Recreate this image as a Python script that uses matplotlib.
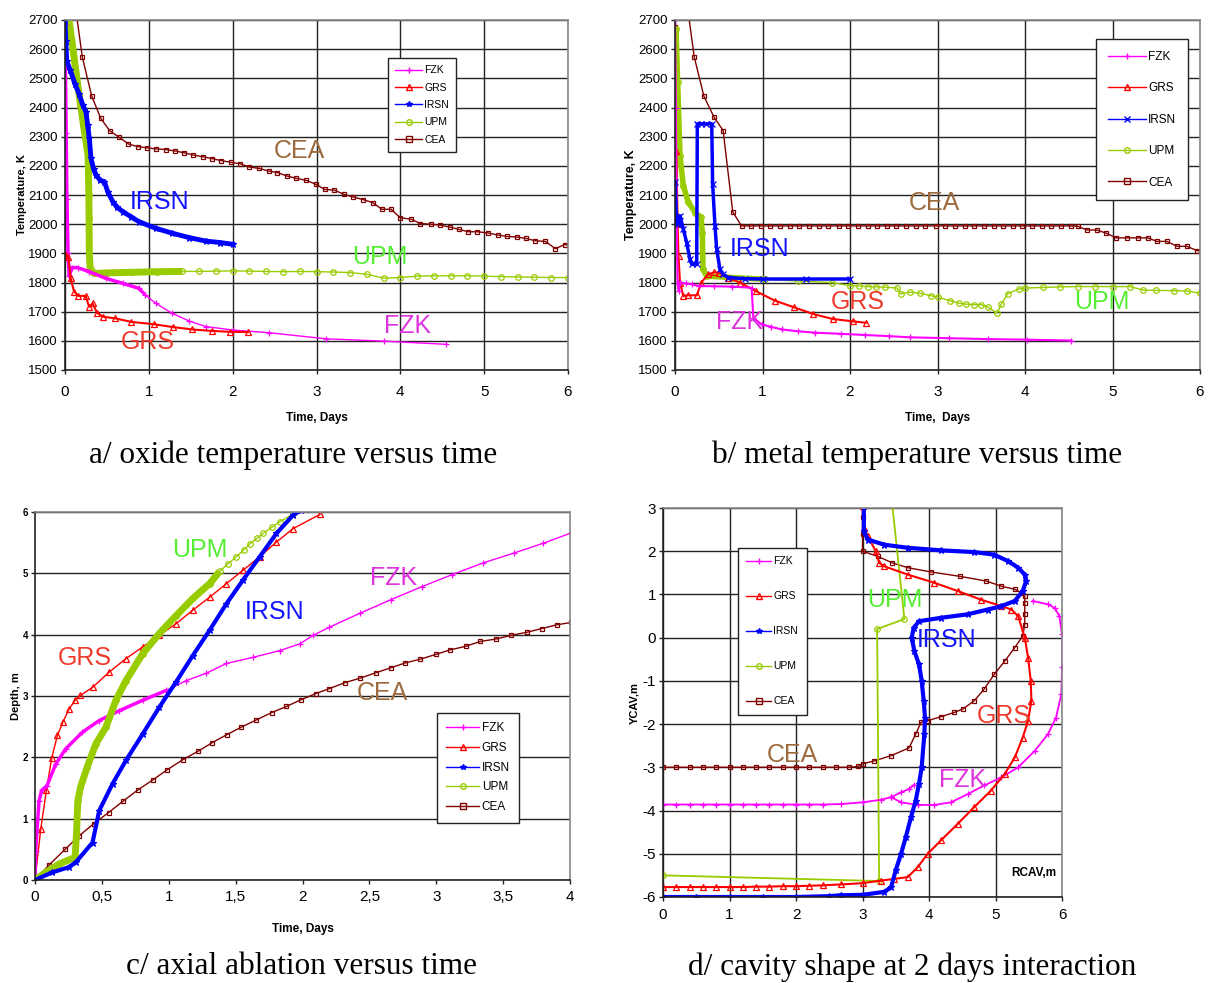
import numpy as np
import matplotlib
matplotlib.use("Agg")
import matplotlib.pyplot as plt
from matplotlib.lines import Line2D

plt.rcParams['font.family'] = ['Liberation Sans', 'DejaVu Sans']
plt.rcParams['axes.unicode_minus'] = False

# ---------------- data: a/ oxide temperature ----------------
fzk_a_t = [0.0, 0.014, 0.023, 0.036, 0.05, 0.08, 0.15, 0.29, 0.49, 0.69, 0.88, 0.96, 1.08, 1.28, 1.48,
           1.68, 2.0, 2.43, 3.11, 3.8, 4.55]
fzk_a_T = [2685, 2314, 2085, 1902, 1822, 1851, 1851, 1837, 1814, 1797, 1780, 1757, 1729, 1694, 1668,
           1649, 1637, 1628, 1607, 1599, 1588]
grs_a_t = [0.0, 0.04, 0.068, 0.108, 0.16, 0.247, 0.287, 0.33, 0.38, 0.45, 0.6, 0.79, 1.06, 1.29, 1.52,
           1.75, 1.97, 2.18]
grs_a_T = [1898, 1886, 1814, 1769, 1754, 1754, 1717, 1728, 1697, 1683, 1677, 1665, 1657, 1647, 1639,
           1634, 1631, 1630]
irsn_a_t = [0.0, 0.01, 0.02, 0.06, 0.12, 0.17, 0.21, 0.25, 0.27, 0.29, 0.31, 0.34, 0.37, 0.42, 0.47,
            0.51, 0.57, 0.62, 0.69, 0.79, 0.88, 1.08, 1.28, 1.48, 1.68, 1.85, 2.0]
irsn_a_T = [2700, 2628, 2560, 2530, 2480, 2445, 2410, 2386, 2340, 2294, 2226, 2190, 2169, 2150, 2146,
            2111, 2077, 2058, 2043, 2025, 2009, 1986, 1969, 1954, 1942, 1937, 1931]
upm_a_t = [0.02, 0.04, 0.1, 0.16, 0.22, 0.275, 0.285, 0.287, 0.29, 0.3, 0.347, 0.5, 0.8, 1.1, 1.4,
           1.6, 1.8, 2.0, 2.2, 2.4, 2.6, 2.8, 3.0, 3.2, 3.4, 3.6, 3.8, 4.0, 4.2, 4.4, 4.6, 4.8, 5.0,
           5.2, 5.4, 5.6, 5.8, 6.0]
upm_a_T = [2720, 2717, 2590, 2460, 2340, 2237, 2100, 2020, 1900, 1849, 1831, 1833, 1835, 1837, 1838,
           1838, 1839, 1840, 1839, 1838, 1837, 1838, 1837, 1836, 1834, 1828, 1815, 1817, 1822, 1823,
           1823, 1823, 1822, 1820, 1819, 1818, 1817, 1817]
cea_a_t = [0.0, 0.05, 0.207, 0.319, 0.426, 0.534, 0.645, 0.757, 0.865, 0.976, 1.088, 1.2, 1.31, 1.42,
           1.53, 1.65, 1.75, 1.86, 1.98, 2.09, 2.2, 2.32, 2.43, 2.53, 2.65, 2.76, 2.88, 2.99, 3.1, 3.21,
           3.33, 3.44, 3.56, 3.67, 3.78, 3.89, 4.0, 4.13, 4.24, 4.36, 4.47, 4.59, 4.7, 4.81, 4.92, 5.04,
           5.16, 5.27, 5.39, 5.5, 5.61, 5.73, 5.85, 5.96, 6.05]
cea_a_T = [2674, 2900, 2572, 2439, 2363, 2320, 2298, 2275, 2266, 2262, 2258, 2256, 2251, 2245,
           2237, 2231, 2225, 2218, 2212, 2207, 2196, 2191, 2182, 2177, 2165, 2157, 2150, 2137, 2119, 2117,
           2102, 2093, 2084, 2074, 2051, 2051, 2022, 2017, 2002, 2000, 1997, 1990, 1982, 1974, 1974, 1970,
           1963, 1958, 1956, 1951, 1943, 1941, 1916, 1930, 1927]

# ---------------- data: b/ metal temperature ----------------
fzk_b_t = [0.0, 0.01, 0.02, 0.03, 0.04, 0.057, 0.12, 0.19, 0.27, 0.45, 0.65, 0.876, 0.895, 0.99, 1.1,
           1.22, 1.4, 1.6, 1.9, 2.17, 2.45, 2.69, 3.13, 3.58, 4.02, 4.53]
fzk_b_T = [2700, 2400, 2000, 1800, 1771, 1800, 1797, 1794, 1788, 1787, 1786, 1782, 1679, 1656, 1648,
           1639, 1633, 1628, 1624, 1620, 1616, 1612, 1609, 1606, 1604, 1601]
grs_b_t = [0.015, 0.03, 0.04, 0.057, 0.095, 0.15, 0.25, 0.3, 0.38, 0.45, 0.5, 0.61, 0.74, 0.92, 1.14,
           1.36, 1.58, 1.8, 2.03, 2.18]
grs_b_T = [2250, 2000, 1891, 1800, 1754, 1756, 1756, 1800, 1828, 1835, 1834, 1815, 1800, 1771, 1738,
           1715, 1692, 1675, 1667, 1662]
irsn_b_t = [0.0, 0.02, 0.04, 0.057, 0.095, 0.133, 0.17, 0.19, 0.248, 0.255, 0.3, 0.35, 0.42, 0.43,
            0.457, 0.476, 0.514, 0.55, 0.61, 0.8, 1.0, 1.5, 2.0]
irsn_b_T = [2143, 2000, 2000, 2029, 1983, 1937, 1880, 1863, 1863, 2344, 2344, 2344, 2344, 2138,
            1994, 1914, 1845, 1828, 1817, 1813, 1812, 1812, 1812]
upm_b_t = [0.0, 0.011, 0.03, 0.057, 0.095, 0.152, 0.23, 0.297, 0.312, 0.32, 0.36, 0.65, 1.03, 1.41,
           1.79, 2.0, 2.1, 2.2, 2.3, 2.4, 2.54, 2.58, 2.69, 2.8, 2.92, 3.0, 3.14, 3.25, 3.32, 3.42, 3.5,
           3.58, 3.68, 3.73, 3.8, 3.93, 4.0, 4.2, 4.4, 4.6, 4.8, 5.0, 5.2, 5.35, 5.5, 5.7, 5.85, 6.0]
upm_b_T = [1903, 2670, 2487, 2235, 2132, 2075, 2040, 2023, 1971, 1845, 1822, 1817, 1811, 1805,
           1800, 1789, 1788, 1786, 1785, 1784, 1781, 1761, 1767, 1763, 1755, 1750, 1738, 1729, 1726, 1724,
           1724, 1715, 1695, 1726, 1761, 1778, 1781, 1783, 1785, 1786, 1786, 1786, 1786, 1774, 1773,
           1772, 1771, 1763]
cea_b_t = [0.0, 0.05, 0.22, 0.33, 0.446, 0.55, 0.66, 0.76, 0.87, 0.98, 1.09, 1.2, 1.31, 1.42, 1.53,
           1.64, 1.75, 1.87, 1.98, 2.09, 2.2, 2.31, 2.42, 2.53, 2.64, 2.75, 2.86, 2.98, 3.09, 3.2, 3.31,
           3.42, 3.53, 3.64, 3.75, 3.86, 3.97, 4.08, 4.19, 4.3, 4.41, 4.52, 4.6, 4.71, 4.82, 4.93, 5.04,
           5.17, 5.29, 5.4, 5.51, 5.62, 5.74, 5.85, 5.97, 6.05]
cea_b_T = [2676, 2950, 2573, 2439, 2367, 2321, 2042, 1994, 1994, 1994, 1994, 1994, 1994, 1994, 1994,
           1994, 1994, 1994, 1994, 1994, 1994, 1994, 1994, 1994, 1994, 1994, 1994, 1994, 1994, 1994, 1994,
           1994, 1994, 1994, 1994, 1994, 1994, 1994, 1994, 1994, 1994, 1994, 1993, 1980, 1980, 1969, 1953,
           1953, 1953, 1953, 1941, 1941, 1924, 1924, 1909, 1909]

# ---------------- data: c/ axial ablation ----------------
fzk_c_t = [0.0, 0.005, 0.03, 0.05, 0.09, 0.155, 0.23, 0.355, 0.48, 0.63, 0.805, 0.98, 1.13, 1.28, 1.43,
           1.63, 1.83, 1.98, 2.08, 2.2, 2.43, 2.66, 2.89, 3.12, 3.35, 3.58, 3.8, 4.01]
fzk_c_D = [0.0, 0.48, 1.29, 1.46, 1.54, 1.89, 2.14, 2.41, 2.6, 2.76, 2.93, 3.09, 3.25, 3.37, 3.53,
           3.63, 3.74, 3.85, 3.99, 4.12, 4.35, 4.57, 4.78, 4.98, 5.17, 5.33, 5.49, 5.66]
grs_c_t = [0.0, 0.043, 0.085, 0.125, 0.168, 0.21, 0.255, 0.3, 0.34, 0.43, 0.555, 0.68, 0.805, 0.93,
           1.055, 1.18, 1.305, 1.43, 1.555, 1.68, 1.805, 1.93, 2.13]
grs_c_D = [0.0, 0.83, 1.46, 1.99, 2.36, 2.58, 2.79, 2.93, 3.01, 3.14, 3.39, 3.61, 3.8, 3.99,
           4.18, 4.4, 4.61, 4.83, 5.05, 5.27, 5.51, 5.73, 5.96]
irsn_c_t = [0.0, 0.13, 0.255, 0.305, 0.43, 0.48, 0.58, 0.68, 0.805, 0.93, 1.055, 1.18, 1.305, 1.43,
            1.555, 1.68, 1.805, 1.93, 1.99]
irsn_c_D = [0.0, 0.125, 0.21, 0.29, 0.61, 1.13, 1.57, 1.95, 2.38, 2.82, 3.23, 3.66, 4.07, 4.5,
            4.89, 5.27, 5.65, 5.95, 6.03]
upm_c_t = [0.0, 0.08, 0.18, 0.3, 0.31, 0.32, 0.34, 0.39, 0.455, 0.53, 0.605, 0.68, 0.805, 0.93, 1.055,
           1.18, 1.305, 1.38, 1.44, 1.505, 1.56, 1.605, 1.66, 1.705, 1.77, 1.83, 1.93, 2.03]
upm_c_D = [0.0, 0.125, 0.26, 0.37, 0.75, 1.29, 1.51, 1.84, 2.22, 2.49, 2.93, 3.25, 3.69, 4.02, 4.31,
           4.59, 4.83, 5.03, 5.15, 5.27, 5.38, 5.48, 5.57, 5.65, 5.75, 5.84, 5.97, 6.06]
cea_c_t = [0.0, 0.105, 0.225, 0.33, 0.44, 0.55, 0.655, 0.77, 0.88, 0.99, 1.105, 1.22, 1.325, 1.435,
           1.54, 1.655, 1.77, 1.88, 1.99, 2.1, 2.2, 2.32, 2.43, 2.55, 2.66, 2.77, 2.88, 3.0, 3.1, 3.22,
           3.33, 3.45, 3.56, 3.68, 3.79, 3.9, 4.01]
cea_c_D = [0.0, 0.245, 0.5, 0.72, 0.92, 1.1, 1.28, 1.47, 1.63, 1.8, 1.96, 2.1, 2.24, 2.37,
           2.49, 2.61, 2.73, 2.83, 2.94, 3.04, 3.12, 3.22, 3.29, 3.38, 3.46, 3.54, 3.6, 3.68, 3.75, 3.81,
           3.89, 3.93, 3.99, 4.04, 4.1, 4.16, 4.2]

# ---------------- data: d/ cavity shape ----------------
fzk_d_r = [0.0, 0.2, 0.4, 0.6, 0.8, 1.0, 1.2, 1.4, 1.6, 1.8, 2.0, 2.2, 2.4, 2.67, 3.0, 3.28, 3.43,
           3.58, 3.7, 3.78]
fzk_d_y = [-3.86, -3.86, -3.86, -3.86, -3.86, -3.86, -3.86, -3.86, -3.86, -3.86, -3.86, -3.86, -3.86,
           -3.85, -3.81, -3.75, -3.69, -3.58, -3.5, -3.4]
fzk_d_r2 = [3.43, 3.58, 3.83, 4.08, 4.33, 4.58, 4.83, 5.09, 5.34, 5.59, 5.79, 5.91, 5.99, 6.0, 6.0,
            5.96, 5.89, 5.79, 5.56]
fzk_d_y2 = [-3.69, -3.81, -3.87, -3.87, -3.81, -3.62, -3.42, -3.23, -3.0, -2.62, -2.23, -1.85, -1.31,
            -0.69, 0.08, 0.5, 0.69, 0.77, 0.85]
grs_d_r = [0.0, 0.2, 0.4, 0.6, 0.8, 1.0, 1.2, 1.4, 1.6, 1.8, 2.0, 2.2, 2.4, 2.67, 3.0, 3.28, 3.48,
           3.68, 3.83, 3.98, 4.18, 4.43, 4.68, 4.93, 5.14, 5.29, 5.41, 5.49, 5.54, 5.53, 5.49, 5.44,
           5.34, 5.24, 5.09, 4.78, 4.43, 4.08, 3.68, 3.33, 3.25, 3.2, 3.08, 3.02, 3.0]
grs_d_y = [-5.77, -5.77, -5.77, -5.77, -5.77, -5.77, -5.77, -5.76, -5.76, -5.75, -5.75, -5.74, -5.73,
           -5.71, -5.68, -5.62, -5.58, -5.54, -5.31, -5.0, -4.69, -4.31, -3.92, -3.54, -3.15, -2.77,
           -2.31, -1.92, -1.46, -1.0, -0.46, 0.0, 0.5, 0.65, 0.73, 0.88, 1.08, 1.27, 1.46, 1.65, 1.73,
           2.0, 2.35, 2.54, 3.04]
irsn_d_r = [0.0, 0.5, 1.0, 1.5, 2.0, 2.5, 2.67, 3.0, 3.33, 3.43, 3.5, 3.58, 3.65, 3.73, 3.8, 3.85,
            3.89, 3.93, 3.94, 3.92, 3.89, 3.85, 3.78, 3.74, 3.77, 3.85, 4.18, 4.58, 4.88, 5.09, 5.29,
            5.41, 5.46, 5.44, 5.34, 5.19, 4.98, 4.68, 4.18, 3.68, 3.33, 3.08, 3.02, 3.02]
irsn_d_y = [-6.0, -6.0, -6.0, -6.0, -6.0, -5.98, -5.96, -5.95, -5.88, -5.77, -5.38, -5.0, -4.62,
            -4.15, -3.77, -3.38, -3.0, -2.23, -1.85, -1.46, -1.0, -0.62, -0.31, 0.0, 0.23, 0.38, 0.46,
            0.54, 0.65, 0.73, 0.85, 1.08, 1.31, 1.46, 1.62, 1.77, 1.92, 1.98, 2.02, 2.08, 2.15, 2.27,
            2.46, 3.04]
upm_d_r = [0.0, 3.25, 3.22, 3.63, 3.45]
upm_d_y = [-5.5, -5.63, 0.2, 0.43, 3.04]
cea_d_r = [0.0, 0.2, 0.4, 0.6, 0.8, 1.0, 1.2, 1.4, 1.6, 1.8, 2.0, 2.2, 2.4, 2.6, 2.8, 2.93, 3.0,
           3.18, 3.43, 3.7, 3.8, 3.88, 3.98, 4.18, 4.38, 4.51, 4.68, 4.83, 4.98, 5.14, 5.29, 5.41,
           5.44, 5.44, 5.44, 5.44, 5.39, 5.29, 5.09, 4.86, 4.46, 4.03, 3.68, 3.45, 3.23, 3.0, 3.0, 3.0,
           3.0]
cea_d_y = [-3.0, -3.0, -3.0, -3.0, -3.0, -3.0, -3.0, -3.0, -3.0, -3.0, -3.0, -3.0, -3.0, -3.0, -3.0,
           -2.98, -2.92, -2.85, -2.73, -2.55, -2.23, -1.96, -1.92, -1.83, -1.73, -1.65, -1.46, -1.19,
           -0.85, -0.54, -0.23, 0.04, 0.3, 0.55, 0.8, 0.96, 1.04, 1.12, 1.19, 1.31, 1.42, 1.52, 1.62,
           1.73, 1.88, 2.0, 2.4, 2.8, 3.04]

labels = ['FZK', 'GRS', 'IRSN', 'UPM', 'CEA']
line_colors = {'FZK': '#ff00ff', 'GRS': '#ff0000', 'IRSN': '#0000ff', 'UPM': '#99cc00', 'CEA': '#800000'}
text_colors = {'FZK': '#dd33dd', 'GRS': '#ee3b2b', 'IRSN': '#1414ff', 'UPM': '#55ee33', 'CEA': '#9c6a3c'}
markers = {'FZK': '+', 'GRS': '^', 'IRSN': '*', 'UPM': 'o', 'CEA': 's'}

W, H = 1208, 983
fig = plt.figure(figsize=(W / 100, H / 100), dpi=100)


def box(l, t, r, b):
    # pixel box -> figure fraction
    return [l / W, 1 - b / H, (r - l) / W, (b - t) / H]


def style(ax, vgrid=True):
    ax.set_axisbelow(True)
    ax.grid(True, axis='y', color='#222222', lw=1.0)
    if vgrid:
        ax.grid(True, axis='x', color='#222222', lw=1.0)
    for s in ['top', 'right']:
        ax.spines[s].set_color('#888888')
        ax.spines[s].set_linewidth(1.2)
    for s in ['left', 'bottom']:
        ax.spines[s].set_color('#222222')
        ax.spines[s].set_linewidth(1.2)
    ax.tick_params(direction='out', length=3, width=1, color='#222222', pad=2)


def draw(ax, name, x, y, lw=1.0, ms=4, mk=None, thick=0, upto=None):
    c = line_colors[name]
    m = mk or markers[name]
    mfc = c if m in ('+', '*', 'x') else 'none'
    ax.plot(x, y, color=c, lw=lw, marker=m, ms=ms, mfc=mfc, mec=c, mew=0.9, clip_on=True)
    if thick:
        xa, ya = np.asarray(x), np.asarray(y)
        sel = xa <= upto if upto is not None else np.ones_like(xa, bool)
        ax.plot(xa[sel], ya[sel], color=c, lw=thick, solid_capstyle='butt')


def legend(ax, x0, y1, fs, spacing, hl=2.2, bp=0.6, mk_irsn='*'):
    hs = []
    for n in labels:
        m = mk_irsn if n == 'IRSN' else markers[n]
        c = line_colors[n]
        hs.append(Line2D([], [], color=c, lw=1, marker=m, ms=4,
                         mfc=c if m in ('+', '*', 'x') else 'none', mec=c))
    lg = ax.legend(hs, labels, loc='upper left', bbox_to_anchor=(x0, y1), fontsize=fs,
                   labelspacing=spacing, handlelength=hl, handletextpad=0.2, borderpad=bp,
                   fancybox=False, framealpha=1, edgecolor='#222222', borderaxespad=0)
    lg.get_frame().set_linewidth(1.0)


def tag(ax, name, x, y, fs=18):
    ax.text(x, y, name, color=text_colors[name], fontsize=fs, ha='center', va='center')


# ---------------- a ----------------
ax = fig.add_axes(box(65, 20, 568, 370))
style(ax)
draw(ax, 'CEA', cea_a_t, cea_a_T, ms=3.5)
draw(ax, 'UPM', upm_a_t, upm_a_T, ms=4, thick=5, upto=1.4)
draw(ax, 'FZK', fzk_a_t, fzk_a_T, ms=5, thick=2.5, upto=1.0)
draw(ax, 'GRS', grs_a_t, grs_a_T, ms=4, lw=1.5)
draw(ax, 'IRSN', irsn_a_t, irsn_a_T, ms=5, lw=3.5)
ax.set_xlim(0, 6)
ax.set_ylim(1500, 2700)
ax.set_xticks(range(0, 7))
ax.set_yticks(range(1500, 2701, 100))
ax.tick_params(axis='x', labelsize=11, pad=8)
ax.tick_params(axis='y', labelsize=9.5)
ax.set_xlabel('Time, Days', fontsize=8.5, fontweight='bold', labelpad=9)
ax.set_ylabel('Temperature, K', fontsize=8, fontweight='bold', labelpad=1)
legend(ax, 0.642, 0.891, 7.5, 0.7, hl=2.6, bp=0.7)
tag(ax, 'CEA', 2.8, 2251)
tag(ax, 'IRSN', 1.13, 2076)
tag(ax, 'UPM', 3.76, 1888)
tag(ax, 'FZK', 4.09, 1651)
tag(ax, 'GRS', 0.99, 1596)

# ---------------- b ----------------
ax = fig.add_axes(box(675, 20, 1200, 370))
style(ax)
draw(ax, 'CEA', cea_b_t, cea_b_T, ms=3.5)
draw(ax, 'UPM', upm_b_t, upm_b_T, ms=4, thick=4, upto=1.4)
draw(ax, 'GRS', grs_b_t, grs_b_T, ms=4, lw=1.5)
draw(ax, 'FZK', fzk_b_t, fzk_b_T, ms=5, lw=1.5)
draw(ax, 'IRSN', irsn_b_t, irsn_b_T, ms=4, mk='x', lw=2.5)
ax.set_xlim(0, 6)
ax.set_ylim(1500, 2700)
ax.set_xticks(range(0, 7))
ax.set_yticks(range(1500, 2701, 100))
ax.tick_params(axis='x', labelsize=11, pad=8)
ax.tick_params(axis='y', labelsize=9.5)
ax.set_xlabel('Time,  Days', fontsize=8.5, fontweight='bold', labelpad=9)
ax.set_ylabel('Temperature, K', fontsize=9, fontweight='bold', labelpad=1)
legend(ax, 0.802, 0.946, 8.5, 1.65, hl=3.2, bp=1.0, mk_irsn='x')
tag(ax, 'CEA', 2.97, 2073)
tag(ax, 'IRSN', 0.97, 1915)
tag(ax, 'GRS', 2.09, 1733)
tag(ax, 'UPM', 4.88, 1733)
tag(ax, 'FZK', 0.74, 1665)

# ---------------- c ----------------
ax = fig.add_axes(box(35, 512, 570, 880))
style(ax, vgrid=False)
draw(ax, 'CEA', cea_c_t, cea_c_D, ms=3.5)
draw(ax, 'GRS', grs_c_t, grs_c_D, ms=4)
draw(ax, 'FZK', fzk_c_t, fzk_c_D, ms=5, thick=2.5, upto=1.1)
draw(ax, 'UPM', upm_c_t, upm_c_D, ms=4, thick=5, upto=1.38)
draw(ax, 'IRSN', irsn_c_t, irsn_c_D, ms=5, lw=3)
ax.set_xlim(0, 4)
ax.set_ylim(0, 6)
ax.set_xticks([0, 0.5, 1, 1.5, 2, 2.5, 3, 3.5, 4])
ax.set_xticklabels(['0', '0,5', '1', '1,5', '2', '2,5', '3', '3,5', '4'])
ax.set_yticks(range(0, 7))
ax.tick_params(axis='x', labelsize=11, pad=4)
ax.tick_params(axis='y', labelsize=7)
for t in ax.get_yticklabels():
    t.set_fontweight('bold')
ax.set_xlabel('Time, Days', fontsize=8.5, fontweight='bold', labelpad=14)
ax.set_ylabel('Depth, m', fontsize=8, fontweight='bold', labelpad=1)
legend(ax, 0.751, 0.454, 8.5, 0.65, hl=2.8, bp=0.8)
tag(ax, 'UPM', 1.23, 5.38)
tag(ax, 'FZK', 2.68, 4.93)
tag(ax, 'IRSN', 1.79, 4.37)
tag(ax, 'GRS', 0.37, 3.62)
tag(ax, 'CEA', 2.6, 3.05)

# ---------------- d ----------------
ax = fig.add_axes(box(663, 508, 1062, 897))
style(ax)
draw(ax, 'CEA', cea_d_r, cea_d_y, ms=3.5)
draw(ax, 'UPM', upm_d_r, upm_d_y, ms=4, lw=1.3)
draw(ax, 'FZK', fzk_d_r, fzk_d_y, ms=5, lw=1.3)
draw(ax, 'FZK', fzk_d_r2, fzk_d_y2, ms=5, lw=1.3)
draw(ax, 'GRS', grs_d_r, grs_d_y, ms=4, lw=1.5)
draw(ax, 'IRSN', irsn_d_r, irsn_d_y, ms=5, lw=3)
ax.set_xlim(0, 6)
ax.set_ylim(-6, 3)
ax.set_xticks(range(0, 7))
ax.set_yticks(range(-6, 4))
ax.tick_params(axis='both', labelsize=11)
ax.tick_params(axis='x', pad=5)
ax.set_ylabel('YCAV,m', fontsize=8, fontweight='bold', labelpad=2)
ax.text(5.92, -5.45, 'RCAV,m', fontsize=8.5, fontweight='bold', ha='right', va='center')
legend(ax, 0.188, 0.897, 7.5, 2.4, hl=2.4, bp=0.8)
tag(ax, 'UPM', 3.49, 0.87)
tag(ax, 'IRSN', 4.27, -0.06)
tag(ax, 'GRS', 5.13, -1.81)
tag(ax, 'CEA', 1.95, -2.72)
tag(ax, 'FZK', 4.5, -3.3)

# ---------------- captions ----------------
caps = [(293, 455, 'a/ oxide temperature versus time'),
        (917, 455, 'b/ metal temperature versus time'),
        (302, 967, 'c/ axial ablation versus time'),
        (912, 967, 'd/ cavity shape at 2 days interaction')]
for x, y, s in caps:
    fig.text(x / W, 1 - y / H, s, ha='center', va='center', fontsize=22.5,
             family=['Liberation Serif', 'DejaVu Serif'])

fig.savefig('out.png', dpi=100)
